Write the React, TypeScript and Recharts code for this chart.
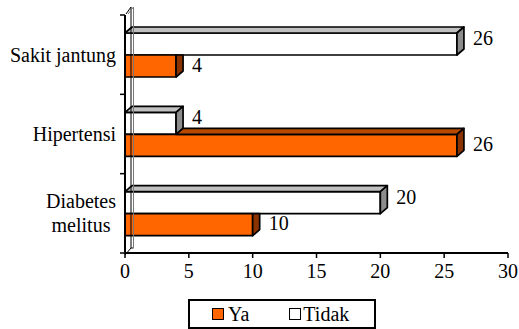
import { BarChart, Bar, XAxis, YAxis, Legend, LabelList, ReferenceLine } from 'recharts';

const CATEGORIES = ['Sakit jantung', 'Hipertensi', 'Diabetes\nmelitus'];
const YA = [4, 26, 10];
const TIDAK = [26, 4, 20];
const X_TICKS = [0, 5, 10, 15, 20, 25, 30];
const SERIES = ['Ya', 'Tidak'];

const data = CATEGORIES.map((name, i) => ({ name, ya: YA[i], tidak: TIDAK[i] }));

const FONT =
  "'Liberation Serif', 'Times New Roman', Times, 'Nimbus Roman', 'Nimbus Roman No9 L', Tinos, FreeSerif, 'Noto Serif', 'DejaVu Serif', serif";
const DX = 7;
const DY = 6;
const ORANGE = '#FF6600';

// 3D box for the white "Tidak" bars
function TidakBox(p: any) {
  const { x, y, width: w, height: h } = p;
  return (
    <g stroke="#000" strokeWidth={1.7} strokeLinejoin="round">
      <rect x={x} y={y} width={w} height={h} fill="#fff" />
      <polygon points={`${x},${y} ${x + DX},${y - DY} ${x + w + DX},${y - DY} ${x + w},${y}`} fill="#c0c0c0" />
      <polygon points={`${x + w},${y} ${x + w + DX},${y - DY} ${x + w + DX},${y + h - DY} ${x + w},${y + h}`} fill="#8c8c8c" />
    </g>
  );
}

// orange "Ya" bars sit under the Tidak bars, so only the uncovered part of the top shows
function YaBox(p: any) {
  const { x, y, width: w, height: h, payload } = p;
  const wT = payload.ya > 0 ? (w * payload.tidak) / payload.ya : 0;
  const showTop = wT < w;
  return (
    <g stroke="#000" strokeWidth={1.7} strokeLinejoin="round">
      <rect x={x} y={y} width={w} height={h} fill={ORANGE} />
      {showTop && (
        <polygon points={`${x + wT},${y} ${x + wT + DX},${y - DY} ${x + w + DX},${y - DY} ${x + w},${y}`} fill="#b84a00" />
      )}
      {showTop ? (
        <polygon points={`${x + w},${y} ${x + w + DX},${y - DY} ${x + w + DX},${y + h - DY} ${x + w},${y + h}`} fill="#8a3300" />
      ) : (
        <polygon points={`${x + w},${y} ${x + w + DX},${y} ${x + w + DX},${y + h - DY} ${x + w},${y + h}`} fill="#8a3300" />
      )}
    </g>
  );
}

function Wall(p: any) {
  const { x1, y1, y2 } = p;
  const bx = x1 + DX - 1;
  return (
    <g fill="none">
      <polyline points={`${x1},${y1 + 2} ${bx},${y1 - DY + 1} ${bx + 2.5},${y1 - DY + 1}`} stroke="#000" strokeWidth={1} />
      <line x1={bx} y1={y1 - DY + 1} x2={bx} y2={y2 - DY - 2} stroke="#000" strokeWidth={1} />
      <line x1={bx + 2.5} y1={y1 - DY + 1} x2={bx + 2.5} y2={y2 - DY - 2} stroke="#777" strokeWidth={1} />
      <line x1={x1 + 1} y1={y2 - 1} x2={bx} y2={y2 - DY - 2} stroke="#000" strokeWidth={1} />
      <line x1={x1 + 3} y1={y2 - 1} x2={bx + 2.5} y2={y2 - DY - 2} stroke="#777" strokeWidth={1} />
    </g>
  );
}

function CatTick(p: any) {
  const { x, y, payload, index, visibleTicksCount } = p;
  const half = payload.offset ?? 39.7;
  const lines = String(payload.value).split('\n');
  const axisX = x + 9;
  const last = index === visibleTicksCount - 1;
  const longest = Math.max(...lines.map((l) => l.length));
  const multi = lines.length > 1;
  const cx = multi ? x - (longest * 8.75) / 2 : x;
  return (
    <g>
      <line x1={axisX - 5} y1={y - half} x2={axisX} y2={y - half} stroke="#000" strokeWidth={1.5} />
      {last && <line x1={axisX - 5} y1={y + half} x2={axisX} y2={y + half} stroke="#000" strokeWidth={1.5} />}
      <text
        x={cx}
        y={y - ((lines.length - 1) * 24) / 2}
        textAnchor={multi ? 'middle' : 'end'}
        dominantBaseline="central"
        fontSize={20}
        style={{ fontFamily: FONT }}
        fill="#000"
      >
        {lines.map((l, i) => (
          <tspan key={i} x={cx} dy={i === 0 ? 0 : 24}>
            {l}
          </tspan>
        ))}
      </text>
    </g>
  );
}

const makeLabel = (shift: number) => (p: any) => {
  const { x, y, width, height, value } = p;
  return (
    <text
      x={x + width + 16}
      y={y + height / 2 + shift}
      dominantBaseline="central"
      fontSize={20}
      style={{ fontFamily: FONT }}
      fill="#000"
    >
      {value}
    </text>
  );
};

function LegendBox() {
  const sq = (fill: string) => (
    <span style={{ display: 'inline-block', width: 10, height: 10, border: '1.5px solid #000', background: fill }} />
  );
  return (
    <div
      style={{
        boxSizing: 'border-box',
        width: 188,
        height: 30,
        border: '2px solid #000',
        display: 'flex',
        alignItems: 'center',
        fontFamily: FONT,
        fontSize: 20,
        color: '#000',
        background: '#fff',
      }}
    >
      <span style={{ marginLeft: 22, display: 'flex' }}>{sq(ORANGE)}</span>
      <span style={{ marginLeft: 4 }}>{SERIES[0]}</span>
      <span style={{ marginLeft: 40, display: 'flex' }}>{sq('#fff')}</span>
      <span style={{ marginLeft: 2 }}>{SERIES[1]}</span>
    </div>
  );
}

export default function App() {
  return (
    <div style={{ position: 'relative', width: 519, height: 329, background: '#fff', fontFamily: FONT }}>
      <style>{`body{margin:0}`}</style>
      <BarChart
        width={519}
        height={329}
        data={data}
        layout="vertical"
        margin={{ top: 15, right: 11, left: 0, bottom: 16 }}
        barSize={22}
        barGap={0}
      >
        <ReferenceLine x={0} shape={(p: any) => <Wall {...p} />} />
        <XAxis
          type="number"
          domain={[0, 30]}
          ticks={X_TICKS}
          tickSize={5}
          tickMargin={6}
          height={30}
          axisLine={{ stroke: '#000', strokeWidth: 2 }}
          tickLine={{ stroke: '#000', strokeWidth: 1.5 }}
          tick={{ fill: '#000', fontSize: 20, style: { fontFamily: FONT } }}
        />
        <YAxis
          type="category"
          dataKey="name"
          width={125}
          interval={0}
          tickSize={5}
          tickMargin={4}
          tickLine={false}
          axisLine={{ stroke: '#000', strokeWidth: 2 }}
          tick={<CatTick />}
        />
        <Legend
          content={() => <LegendBox />}
          wrapperStyle={{ position: 'absolute', left: 188, top: 299, width: 188, height: 30 }}
        />
        <Bar dataKey="tidak" name={SERIES[1]} fill="#fff" shape={(p: any) => <TidakBox {...p} />} isAnimationActive={false}>
          <LabelList dataKey="tidak" content={makeLabel(-6)} />
        </Bar>
        <Bar dataKey="ya" name={SERIES[0]} fill={ORANGE} shape={(p: any) => <YaBox {...p} />} isAnimationActive={false}>
          <LabelList dataKey="ya" content={makeLabel(-1.5)} />
        </Bar>
      </BarChart>
    </div>
  );
}
